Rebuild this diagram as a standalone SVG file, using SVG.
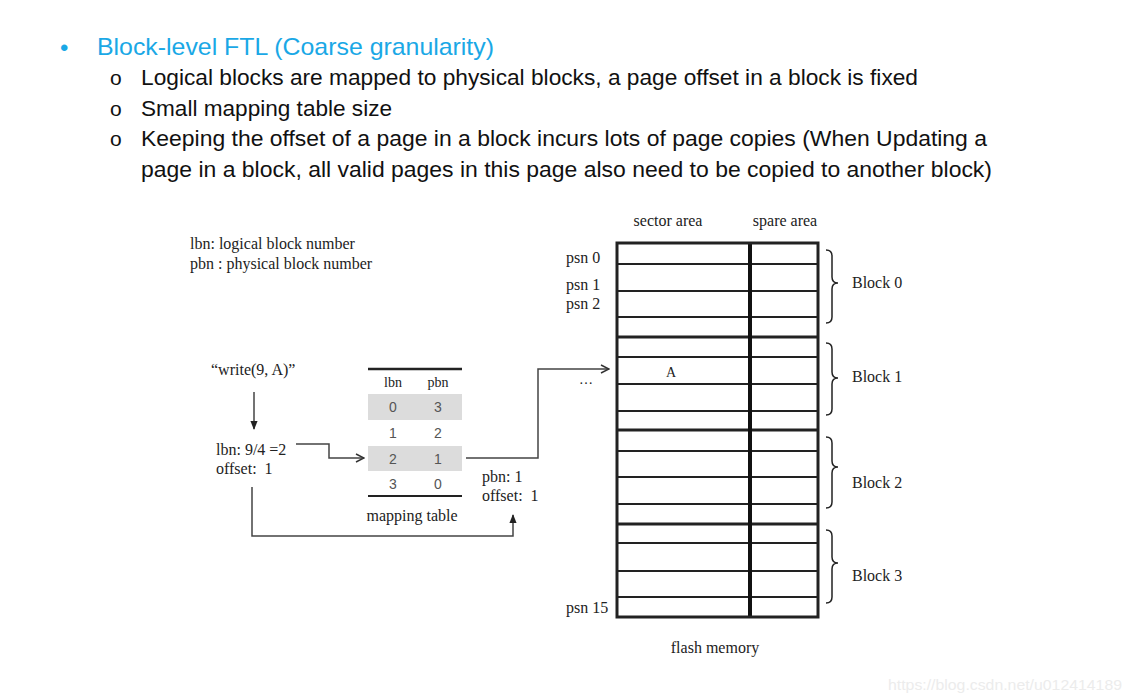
<svg xmlns="http://www.w3.org/2000/svg" width="1132" height="700" viewBox="0 0 1132 700">
<defs>
<style>
.hd{font-family:"Liberation Sans",Arial,sans-serif;font-size:22px;fill:#111}
.bu{font-family:"Liberation Sans",Arial,sans-serif;font-size:21px;fill:#111}
.ti{font-family:"Liberation Sans",Arial,sans-serif;font-size:24px;fill:#1AA8E6}
.sr{font-family:"Liberation Serif","Times New Roman",serif;font-size:16px;fill:#222}
.sm{font-family:"Liberation Serif","Times New Roman",serif;font-size:14px;fill:#222}
.tb{font-family:"Liberation Sans",Arial,sans-serif;font-size:14px;fill:#555;text-anchor:middle}
.conn{fill:none;stroke:#444;stroke-width:1.5}
.thick{stroke:#222;stroke-width:3;fill:none}
.thin{stroke:#222;stroke-width:2;fill:none}
.brace{fill:none;stroke:#222;stroke-width:1.5}
</style>
<marker id="open" viewBox="0 0 10 10" refX="9" refY="5" markerWidth="10" markerHeight="10" markerUnits="userSpaceOnUse" orient="auto">
<path d="M1,1 L9,5 L1,9" fill="none" stroke="#333" stroke-width="1.5"/>
</marker>
<marker id="solid" viewBox="0 0 10 10" refX="9" refY="5" markerWidth="9" markerHeight="9" markerUnits="userSpaceOnUse" orient="auto">
<path d="M0,1 L10,5 L0,9 Z" fill="#222"/>
</marker>
</defs>
<rect width="1132" height="700" fill="#fff"/>

<g id="header">
<text x="60" y="56" class="ti">•</text>
<text x="97" y="55" class="ti" textLength="397" lengthAdjust="spacingAndGlyphs">Block-level FTL (Coarse granularity)</text>
<text x="110" y="85" class="bu">o</text>
<text x="141" y="85" class="hd" textLength="777" lengthAdjust="spacingAndGlyphs">Logical blocks are mapped to physical blocks, a page offset in a block is fixed</text>
<text x="110" y="116" class="bu">o</text>
<text x="141" y="116" class="hd" textLength="251" lengthAdjust="spacingAndGlyphs">Small mapping table size</text>
<text x="110" y="146" class="bu">o</text>
<text x="141" y="146" class="hd" textLength="846" lengthAdjust="spacingAndGlyphs">Keeping the offset of a page in a block incurs lots of page copies (When Updating a</text>
<text x="141" y="177" class="hd" textLength="851" lengthAdjust="spacingAndGlyphs">page in a block, all valid pages in this page also need to be copied to another block)</text>
</g>

<g id="legend">
<text x="190" y="249" class="sr">lbn: logical block number</text>
<text x="190" y="269" class="sr">pbn : physical block number</text>
</g>

<g id="write">
<text x="211" y="375" class="sr">“write(9, A)”</text>
</g>

<g id="lbn-calc">
<text x="216" y="455" class="sr">lbn: 9/4 =2</text>
<text x="216" y="474" class="sr" xml:space="preserve">offset:  1</text>
</g>

<g id="mapping-table">
<line x1="368" y1="369" x2="462" y2="369" stroke="#222" stroke-width="2.5"/>
<text x="393" y="387" class="sm" text-anchor="middle">lbn</text>
<text x="438" y="387" class="sm" text-anchor="middle">pbn</text>
<rect x="368" y="394" width="94" height="26" fill="#dcdcdc"/>
<rect x="368" y="446" width="94" height="25" fill="#dcdcdc"/>
<text x="393" y="412" class="tb">0</text><text x="438" y="412" class="tb">3</text>
<text x="393" y="438" class="tb">1</text><text x="438" y="438" class="tb">2</text>
<text x="393" y="464" class="tb">2</text><text x="438" y="464" class="tb">1</text>
<text x="393" y="489" class="tb">3</text><text x="438" y="489" class="tb">0</text>
<line x1="368" y1="496" x2="462" y2="496" stroke="#222" stroke-width="2"/>
<text x="412" y="521" class="sr" text-anchor="middle">mapping table</text>
</g>

<g id="pbn-result">
<text x="482" y="482" class="sr">pbn: 1</text>
<text x="482" y="501" class="sr" xml:space="preserve">offset:  1</text>
</g>

<g id="flash-memory">
<text x="668" y="226" class="sr" text-anchor="middle">sector area</text>
<text x="785" y="226" class="sr" text-anchor="middle">spare area</text>
<text x="566" y="263" class="sr">psn 0</text>
<text x="566" y="290" class="sr">psn 1</text>
<text x="566" y="309" class="sr">psn 2</text>
<text x="566" y="613" class="sr">psn 15</text>
<g class="rows">
<line x1="617" y1="264" x2="818" y2="264" class="thin"/>
<line x1="617" y1="291" x2="818" y2="291" class="thin"/>
<line x1="617" y1="317" x2="818" y2="317" class="thin"/>
<line x1="617" y1="337" x2="818" y2="337" class="thick"/>
<line x1="617" y1="357" x2="818" y2="357" class="thin"/>
<line x1="617" y1="384" x2="818" y2="384" class="thin"/>
<line x1="617" y1="411" x2="818" y2="411" class="thin"/>
<line x1="617" y1="430" x2="818" y2="430" class="thick"/>
<line x1="617" y1="451" x2="818" y2="451" class="thin"/>
<line x1="617" y1="477" x2="818" y2="477" class="thin"/>
<line x1="617" y1="504" x2="818" y2="504" class="thin"/>
<line x1="617" y1="524" x2="818" y2="524" class="thick"/>
<line x1="617" y1="543" x2="818" y2="543" class="thin"/>
<line x1="617" y1="571" x2="818" y2="571" class="thin"/>
<line x1="617" y1="597" x2="818" y2="597" class="thin"/>
</g>
<line x1="750" y1="243" x2="750" y2="617" stroke="#111" stroke-width="4"/>
<rect x="617" y="243" width="201" height="374" class="thick"/>
<text x="666" y="377" class="sm">A</text>
<text x="715" y="653" class="sr" text-anchor="middle">flash memory</text>
<text x="579" y="384" class="sm" fill="#555">…</text>
</g>

<g id="braces">
<path class="brace" d="M826,250 Q832,250 832,256 L832,277 Q832,283 838,283 Q832,283 832,289 L832,317 Q832,323 826,323"/>
<path class="brace" d="M826,343 Q832,343 832,349 L832,372 Q832,378 838,378 Q832,378 832,384 L832,409 Q832,415 826,415"/>
<path class="brace" d="M826,437 Q832,437 832,443 L832,461 Q832,467 838,467 Q832,467 832,473 L832,502 Q832,508 826,508"/>
<path class="brace" d="M826,530 Q832,530 832,536 L832,557 Q832,563 838,563 Q832,563 832,569 L832,597 Q832,603 826,603"/>
<text x="852" y="288" class="sr">Block 0</text>
<text x="852" y="382" class="sr">Block 1</text>
<text x="852" y="488" class="sr">Block 2</text>
<text x="852" y="581" class="sr">Block 3</text>
</g>

<g id="connectors">
<line x1="254" y1="392" x2="254" y2="429" class="conn" stroke="#222" marker-end="url(#solid)"/>
<polyline points="296,444 329,444 329,458 364,458" class="conn" marker-end="url(#open)"/>
<polyline points="466,458 538,458 538,369 609,369" class="conn" marker-end="url(#open)"/>
<polyline points="252,487 252,536 513,536 513,515" class="conn" marker-end="url(#solid)"/>
</g>

<text x="888" y="690" font-family="Liberation Sans,Arial,sans-serif" font-size="15" fill="#ececec" textLength="234" lengthAdjust="spacingAndGlyphs">https://blog.csdn.net/u012414189</text>
</svg>
